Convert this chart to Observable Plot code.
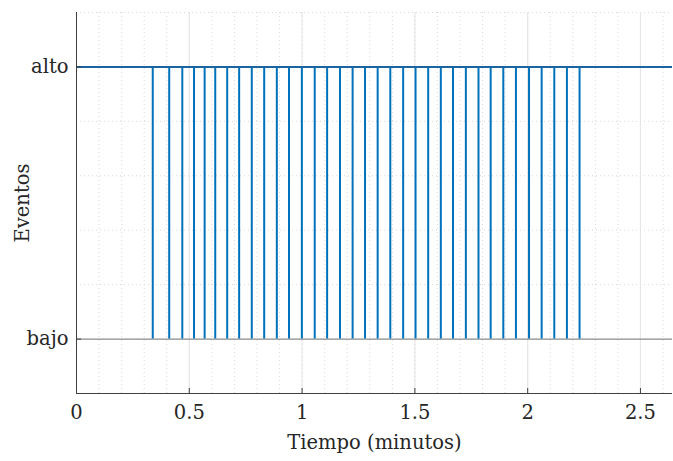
<!DOCTYPE html>
<html>
<head>
<meta charset="utf-8">
<script src="https://cdn.jsdelivr.net/npm/d3@7"></script>
<script src="https://cdn.jsdelivr.net/npm/@observablehq/plot@0.6"></script>
<style>
  html, body { margin: 0; padding: 0; background: #fff; }
  #chart svg { display: block; }
</style>
</head>
<body>
<div id="chart"></div>
<script>
// Event times (minutes) at which the signal switches to "alto"
const eventTimes = [
  0.338, 0.411, 0.469, 0.521, 0.568, 0.615, 0.668, 0.721, 0.777, 0.832,
  0.888, 0.942, 0.999, 1.056, 1.111, 1.168, 1.224, 1.279, 1.335, 1.391,
  1.448, 1.503, 1.559, 1.615, 1.669, 1.726, 1.782, 1.836, 1.892, 1.948,
  2.006, 2.062, 2.118, 2.174, 2.230
];
// Event levels and their labels
const levelValues = [0, 1];
const levelLabels = ["bajo", "alto"];
// Axis ticks
const xTicks = [0, 0.5, 1, 1.5, 2, 2.5];
const xMinorTicks = d3.range(0, 27).map(i => i / 10);
const yMinorTicks = [-0.2, 0.2, 0.4, 0.6, 0.8, 1.2];

const font = "'DejaVu Serif', serif";
const fs = 19.5;
const blue = "#0072BD";

const chart = Plot.plot({
  width: 673,
  height: 461,
  marginLeft: 76,
  marginRight: 1,
  marginTop: 12,
  marginBottom: 68,
  style: { fontFamily: font, fontSize: fs + "px", color: "#262626", background: "#fff", overflow: "visible" },
  x: { domain: [0, 2.642] },
  y: { domain: [-0.2, 1.2] },
  marks: [
    // minor grid (dotted)
    Plot.ruleX(xMinorTicks, { stroke: "#d9d9d9", strokeWidth: 1, strokeDasharray: "1,3" }),
    Plot.ruleY(yMinorTicks, { stroke: "#d9d9d9", strokeWidth: 1, strokeDasharray: "1,3" }),
    // major grid
    Plot.ruleX(xTicks, { stroke: "#e6e6e6", strokeWidth: 1.2 }),
    // baseline at "bajo"
    Plot.ruleY([levelValues[0]], { stroke: "#8a8a8a", strokeWidth: 1.3 }),
    // event stems
    Plot.ruleX(eventTimes, { x: d => d, y1: levelValues[0], y2: levelValues[1], stroke: blue, strokeWidth: 2 }),
    // "alto" level line
    Plot.ruleY([levelValues[1]], { stroke: "#1b64a0", strokeWidth: 2 }),
    // axes
    Plot.axisX(xTicks, {
      tickSize: -5, tickPadding: 17, stroke: "#404040", tickFormat: d => String(d),
      fontSize: fs, fill: "#262626", label: null
    }),
    Plot.axisY(levelValues, {
      tickSize: -5, tickPadding: 13, stroke: "#404040",
      tickFormat: d => levelLabels[levelValues.indexOf(d)],
      fontSize: fs, fill: "#262626", label: null
    }),
    Plot.ruleX([0], { stroke: "#404040", strokeWidth: 1 }),
    Plot.ruleY([-0.2], { stroke: "#404040", strokeWidth: 1 }),
    // axis titles
    Plot.text(["Tiempo (minutos)"], {
      frameAnchor: "bottom", lineAnchor: "middle", textAnchor: "middle",
      dy: 49, fontSize: fs, fill: "#262626"
    }),
    Plot.text(["Eventos"], {
      frameAnchor: "left", textAnchor: "middle", lineAnchor: "middle",
      dx: -54, rotate: -90, fontSize: fs, fill: "#262626"
    })
  ]
});

document.getElementById("chart").appendChild(chart);
</script>
</body>
</html>
